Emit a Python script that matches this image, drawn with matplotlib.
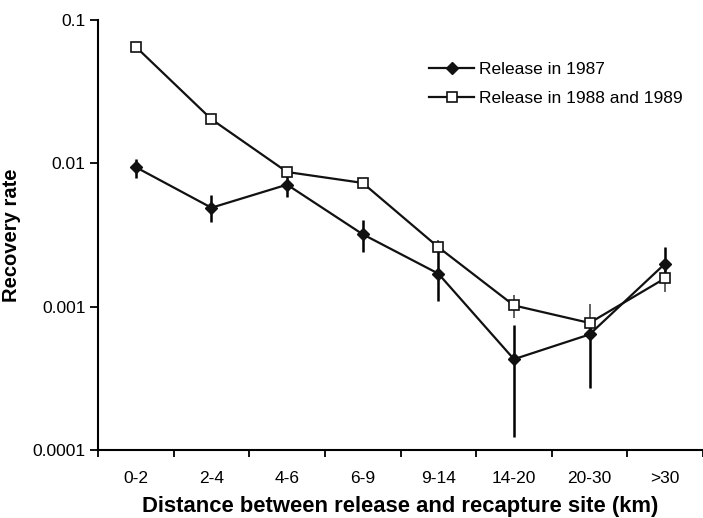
import numpy as np
import matplotlib.pyplot as plt

plt.rcParams["font.family"] = ["Liberation Sans", "DejaVu Sans"]

categories = ["0-2", "2-4", "4-6", "6-9", "9-14", "14-20", "20-30", ">30"]

# Release in 1987: mean with lower/upper bounds of the error bars
rate_1987 = [0.0094, 0.0049, 0.0071, 0.0032, 0.0017, 0.00043, 0.00064, 0.0020]
low_1987 = [0.0079, 0.0039, 0.0058, 0.0024, 0.0011, 0.000124, 0.00027, 0.0015]
high_1987 = [0.0107, 0.0060, 0.0082, 0.0040, 0.0026, 0.00074, 0.00080, 0.0026]

# Release in 1988 and 1989
rate_8889 = [0.065, 0.0203, 0.0087, 0.0073, 0.0026, 0.00102, 0.00077, 0.00158]
low_8889 = [0.065, 0.0203, 0.0087, 0.0073, 0.0026, 0.00083, 0.00066, 0.00127]
high_8889 = [0.065, 0.0203, 0.0087, 0.0073, 0.0029, 0.00120, 0.00104, 0.0019]


def main():
    x = np.arange(len(categories))
    fig = plt.figure(figsize=(7.03, 5.18), dpi=100)
    ax = fig.add_axes([98 / 703, 68 / 518, 605 / 703, 430 / 518])

    r87 = np.array(rate_1987)
    r89 = np.array(rate_8889)
    err87 = [r87 - np.array(low_1987), np.array(high_1987) - r87]
    err89 = [r89 - np.array(low_8889), np.array(high_8889) - r89]

    ax.errorbar(x, r89, yerr=err89, fmt="none", ecolor="#555555", elinewidth=1.3, capsize=0, zorder=2)
    ax.errorbar(x, r87, yerr=err87, fmt="none", ecolor="black", elinewidth=1.8, capsize=0, zorder=2)
    ax.plot(x, r87, color="#111111", lw=1.6, marker="D", ms=6.5, mfc="#111111", mec="#111111",
            label="Release in 1987", zorder=3)
    ax.plot(x, r89, color="#111111", lw=1.6, marker="s", ms=7, mfc="white", mec="#111111", mew=1.2,
            label="Release in 1988 and 1989", zorder=4)

    ax.set_yscale("log")
    ax.set_ylim(1e-4, 0.1)
    ax.set_yticks([1e-4, 1e-3, 1e-2, 1e-1], ["0.0001", "0.001", "0.01", "0.1"])
    ax.minorticks_off()
    ax.set_xlim(-0.5, 7.46)
    ax.set_xticks(np.arange(len(categories) + 1) - 0.5, [])
    ax.set_xticks(x, categories, minor=True)
    ax.tick_params(axis="x", which="minor", length=0, pad=15, labelsize=12.5)
    ax.tick_params(axis="x", which="major", length=5, width=1.3, direction="out")
    ax.tick_params(axis="y", length=6, width=1.3, direction="out", labelsize=12.5, pad=3)

    for side in ("top", "right"):
        ax.spines[side].set_visible(False)
    for side in ("left", "bottom"):
        ax.spines[side].set_linewidth(1.5)

    ax.set_xlabel("Distance between release and recapture site (km)", fontsize=15.8,
                  fontweight="bold", labelpad=7.5)
    ax.set_ylabel("Recovery rate", fontsize=14.5, fontweight="bold", labelpad=8)

    ax.legend(loc="upper left", bbox_to_anchor=(0.5215, 0.94), frameon=False, fontsize=12.5,
              handlelength=2.6, handletextpad=0.3, labelspacing=0.8)

    fig.savefig("out.png", dpi=100)


if __name__ == "__main__":
    main()
